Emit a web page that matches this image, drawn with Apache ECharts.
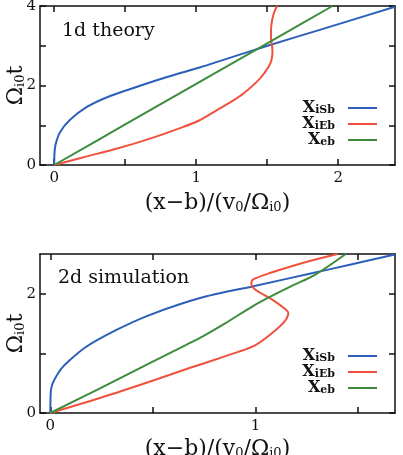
<!DOCTYPE html>
<html>
<head>
<meta charset="utf-8">
<script src="https://cdn.jsdelivr.net/npm/echarts@6/dist/echarts.min.js"></script>
<style>
  html, body { margin: 0; padding: 0; background: #fff; }
  #chart { width: 403px; height: 455px; }
</style>
</head>
<body>
<div id="chart"></div>
<script>
// curves as [x, t] pairs
const theoryISb = [[0, 0], [0.002, 0.3], [0.01, 0.52], [0.04, 0.82], [0.11, 1.13], [0.23, 1.46], [0.39, 1.73], [0.61, 2.0], [0.8, 2.22], [1.03, 2.46], [1.17, 2.62], [1.52, 3.02], [1.87, 3.4], [2.4, 3.98]]
const theoryIEb = [[0, 0], [0.2, 0.19], [0.45, 0.42], [0.68, 0.67], [0.91, 0.96], [1.02, 1.12], [1.146, 1.38], [1.25, 1.6], [1.333, 1.8], [1.45, 2.18], [1.51, 2.47], [1.53, 2.64], [1.537, 2.85], [1.535, 2.98], [1.527, 3.2], [1.527, 3.4], [1.535, 3.65], [1.55, 3.85], [1.57, 4.0]]
const theoryEb = [[0, 0], [0.5, 1.02], [1, 2.04], [1.5, 3.06], [1.96, 4]]

const simISb = [[0, 0], [0.001, 0.2], [0.003, 0.38], [0.012, 0.5], [0.03, 0.62], [0.05, 0.73], [0.08, 0.84], [0.17, 1.1], [0.32, 1.39], [0.48, 1.64], [0.73, 1.93], [0.99, 2.13], [1.28, 2.35], [1.46, 2.49], [1.68, 2.66]]
const simIEb = [[0, 0], [0.25, 0.26], [0.48, 0.52], [0.7, 0.78], [0.92, 1.03], [1.0, 1.14], [1.08, 1.34], [1.14, 1.53], [1.16, 1.68], [1.14, 1.76], [1.07, 1.93], [1.0, 2.07], [0.98, 2.18], [0.987, 2.24], [1.07, 2.35], [1.23, 2.52], [1.4, 2.67]]
const simEb = [[0, 0], [0.24, 0.41], [0.48, 0.83], [0.66, 1.14], [0.75, 1.3], [0.85, 1.5], [0.99, 1.8], [1.07, 1.95], [1.18, 2.14], [1.29, 2.32], [1.44, 2.67]]

const seriesNames = ['xiSb', 'xiEb', 'xeb']
const subscripts = { xiSb: 'iSb', xiEb: 'iEb', xeb: 'eb' }
const panelTitles = ['1d theory', '2d simulation']

const theoryXTicks = [0, 0.5, 1, 1.5, 2]
const theoryXLabels = [0, 1, 2]
const theoryYTicks = [0, 1, 2, 3, 4]
const theoryYLabels = [0, 2, 4]
const simXTicks = [0, 0.5, 1, 1.5]
const simXLabels = [0, 1]
const simYTicks = [0, 1, 2]
const simYLabels = [0, 2]

const colors = ['#2b5fb8', '#f0503c', '#3c8c3c']
const serif = 'DejaVu Serif'

const chart = echarts.init(document.getElementById('chart'))

const nameRich = {
  a: { fontFamily: serif, fontSize: 22, color: '#111' },
  s: { fontFamily: serif, fontSize: 13, color: '#111', verticalAlign: 'bottom', padding: [9, 0, 0, 0] }
}

const frameLine = { show: true, onZero: false, lineStyle: { color: '#111', width: 1.5 } }

function xAxes(gridIndex, min, max, ticks, labels, gap) {
  return [
    {
      type: 'value', gridIndex, min, max, position: 'bottom',
      axisLine: frameLine,
      axisTick: { show: true, inside: true, length: 6, customValues: ticks, lineStyle: { color: '#111', width: 1.5 } },
      axisLabel: { show: true, customValues: labels, margin: 6, fontFamily: serif, fontSize: 15, color: '#111' },
      splitLine: { show: false },
      name: '{a|(x−b)/(v}{s|0}{a|/Ω}{s|i0}{a|)}',
      nameLocation: 'middle', nameGap: gap, nameMoveOverlap: false,
      nameTextStyle: { rich: nameRich }
    },
    {
      type: 'value', gridIndex, min, max, position: 'top',
      axisLine: frameLine,
      axisTick: { show: true, inside: true, length: 6, customValues: ticks, lineStyle: { color: '#111', width: 1.5 } },
      axisLabel: { show: false },
      splitLine: { show: false }
    }
  ]
}

function yAxes(gridIndex, min, max, ticks, labels) {
  return [
    {
      type: 'value', gridIndex, min, max, position: 'left',
      axisLine: frameLine,
      axisTick: { show: true, inside: true, length: 6, customValues: ticks, lineStyle: { color: '#111', width: 1.5 } },
      axisLabel: { show: true, customValues: labels, margin: 4, fontFamily: serif, fontSize: 15, color: '#111' },
      splitLine: { show: false },
      name: '{a|Ω}{s|i0}{a|t}',
      nameLocation: 'middle', nameGap: 13, nameRotate: 90, nameMoveOverlap: false,
      nameTextStyle: { rich: nameRich }
    },
    {
      type: 'value', gridIndex, min, max, position: 'right',
      axisLine: frameLine,
      axisTick: { show: true, inside: true, length: 6, customValues: ticks, lineStyle: { color: '#111', width: 1.5 } },
      axisLabel: { show: false },
      splitLine: { show: false }
    }
  ]
}

function lineSeries(name, data, gridIdx, color) {
  return {
    type: 'line', name, data,
    xAxisIndex: gridIdx * 2, yAxisIndex: gridIdx * 2,
    showSymbol: false, symbol: 'none', smooth: 0.3,
    lineStyle: { color, width: 2 },
    itemStyle: { color },
    z: 3
  }
}

function legend(top) {
  return {
    data: seriesNames,
    orient: 'vertical', align: 'right',
    right: 26, top, padding: 0,
    icon: 'rect', itemWidth: 29, itemHeight: 2, itemGap: 0,
    formatter: name => '{x|X}{s|' + subscripts[name] + '}',
    textStyle: {
      lineHeight: 15.5,
      padding: [0, 8, 0, 0],
      rich: {
        x: { fontFamily: serif, fontWeight: 'bold', fontSize: 16, color: '#111' },
        s: { fontFamily: serif, fontWeight: 'bold', fontSize: 11, color: '#111', verticalAlign: 'bottom', padding: [3, 0, 0, 0] }
      }
    }
  }
}

chart.setOption({
  animation: false,
  grid: [
    { left: 40, right: 8, top: 6, height: 159, containLabel: false, outerBoundsMode: 'none' },
    { left: 40, right: 8, top: 254, height: 159, containLabel: false, outerBoundsMode: 'none' }
  ],
  title: panelTitles.map((t, i) => ({
    text: t,
    left: i === 0 ? 62 : 58,
    top: i === 0 ? 22 : 269,
    padding: 0,
    textStyle: { fontFamily: serif, fontWeight: 'normal', fontSize: 19, color: '#111' }
  })),
  legend: [legend(100), legend(348)],
  xAxis: [
    ...xAxes(0, -0.1, 2.4, theoryXTicks, theoryXLabels, 27),
    ...xAxes(1, -0.05, 1.68, simXTicks, simXLabels, 25)
  ],
  yAxis: [
    ...yAxes(0, 0, 4, theoryYTicks, theoryYLabels),
    ...yAxes(1, 0, 2.67, simYTicks, simYLabels)
  ],
  series: [
    lineSeries('xiSb', theoryISb, 0, colors[0]),
    lineSeries('xiEb', theoryIEb, 0, colors[1]),
    lineSeries('xeb', theoryEb, 0, colors[2]),
    lineSeries('xiSb', simISb, 1, colors[0]),
    lineSeries('xiEb', simIEb, 1, colors[1]),
    lineSeries('xeb', simEb, 1, colors[2])
  ]
})
</script>
</body>
</html>
